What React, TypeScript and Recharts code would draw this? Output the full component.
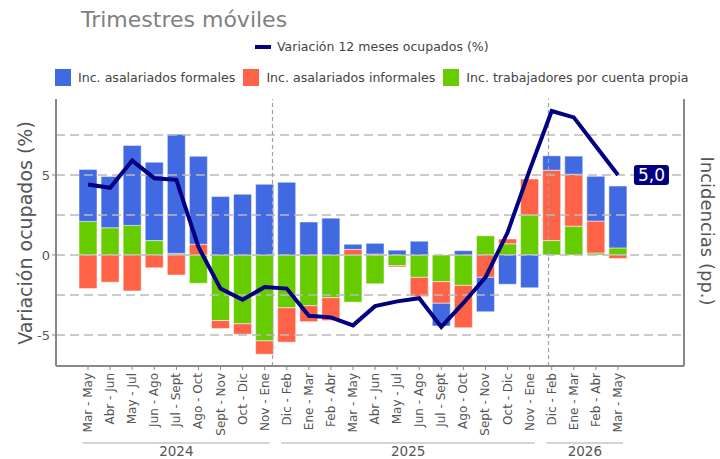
import {
  Bar,
  ComposedChart,
  LabelList,
  Line,
  ReferenceLine,
  XAxis,
  YAxis,
} from "recharts";

const periods = [
  "Mar - May", "Abr - Jun", "May - Jul", "Jun - Ago", "Jul - Sept", "Ago - Oct",
  "Sept - Nov", "Oct - Dic", "Nov - Ene",
  "Dic - Feb", "Ene - Mar", "Feb - Abr", "Mar - May", "Abr - Jun", "May - Jul",
  "Jun - Ago", "Jul - Sept", "Ago - Oct", "Sept - Nov", "Oct - Dic", "Nov - Ene",
  "Dic - Feb", "Ene - Mar", "Feb - Abr", "Mar - May",
];
const years = ["2024", "2025", "2026"];
const yearCounts = [9, 12, 4];

const formales = [
  3.25, 3.2, 5.0, 4.9, 7.45, 5.5, 3.65, 3.8, 4.42, 4.55, 2.06, 2.3, 0.32, 0.67,
  0.3, 0.86, -1.42, 0.27, -2.15, -1.83, -2.05, 0.9, 1.13, 2.8, 3.87,
];
const informales = [
  -2.1, -1.7, -2.25, -0.8, -1.25, 0.67, -0.5, -0.65, -0.83, -2.15, -1.0, -1.43,
  0.35, 0.06, -0.08, -1.2, -1.35, -2.65, -1.4, 0.3, 2.25, 4.4, 3.25, 2.0, -0.22,
];
const cuentaPropia = [
  2.1, 1.7, 1.85, 0.9, 0.1, -1.77, -4.1, -4.3, -5.37, -3.3, -3.17, -2.67, -2.95,
  -1.8, -0.67, -1.4, -1.67, -1.9, 1.2, 0.7, 2.5, 0.9, 1.8, 0.12, 0.44,
];
const ocupados = [
  4.4, 4.2, 5.9, 4.8, 4.7, 0.5, -2.1, -2.8, -2.0, -2.1, -3.8, -3.9, -4.4, -3.2,
  -2.9, -2.7, -4.5, -3.0, -1.4, 1.4, 5.3, 9.0, 8.6, 6.8, 5.0,
];

const gridValues = [-5, -2.5, 0, 2.5, 5, 7.5];
const axisTicks = [-5, 0, 5];

const data = periods.map((p, i) => ({
  id: `p${i}`,
  period: p,
  formales: formales[i],
  informales: informales[i],
  propia: cuentaPropia[i],
  ocupados: ocupados[i],
}));

// layout
const W = 720;
const H = 459;
const PLOT_L = 56;
const PLOT_R = 684;
const PLOT_T = 99;
const PLOT_B = 366;
const PAD = { left: 21, right: 55 };
const STEP = (PLOT_R - PLOT_L - PAD.left - PAD.right) / periods.length;

const BLUE = "#4169E1";
const RED = "#FF6347";
const GREEN = "#66CC00";
const NAVY = "#000080";
const AXIS = "#888888";
const TEXT = "#555555";
const FONT = "DejaVu Sans, sans-serif";

// boundaries between year groups, in category index units
const groupStarts = yearCounts.map((_, g) =>
  yearCounts.slice(0, g).reduce((a, b) => a + b, 0)
);
const yearBreaks = groupStarts.slice(1).map((s) => s - 0.5);

const PeriodTick = (props: any) => {
  const { x, payload } = props;
  const i = payload.index;
  const g = groupStarts.indexOf(i);
  const tx = x + 4;
  const ty = PLOT_B + 7;
  return (
    <g>
      <text
        x={tx}
        y={ty}
        transform={`rotate(-90, ${tx}, ${ty})`}
        textAnchor="end"
        fontSize={12}
        fill={TEXT}
        fontFamily={FONT}
      >
        {periods[i]}
      </text>
      {g >= 0 && (
        <g>
          <line
            x1={x - 5.5}
            x2={x + (yearCounts[g] - 1) * STEP + 5}
            y1={443}
            y2={443}
            stroke="#aaaaaa"
            strokeWidth={1.2}
          />
          <text
            x={x + ((yearCounts[g] - 1) / 2) * STEP}
            y={456}
            textAnchor="middle"
            fontSize={13.5}
            fill={TEXT}
            fontFamily={FONT}
          >
            {years[g]}
          </text>
        </g>
      )}
    </g>
  );
};

const EndLabel = (props: any) => {
  const { x, y, value, index } = props;
  if (index !== periods.length - 1) return null;
  const bx = x + 16;
  return (
    <g>
      <rect x={bx} y={y - 10} width={35} height={20} rx={3} fill={NAVY} />
      <text
        x={bx + 17.5}
        y={y + 6}
        textAnchor="middle"
        fontSize={17}
        fill="#ffffff"
        fontFamily={FONT}
      >
        {Number(value).toFixed(1).replace(".", ",")}
      </text>
    </g>
  );
};

const LegendSwatch = ({ color, label }: { color: string; label: string }) => (
  <div style={{ display: "flex", alignItems: "center", marginRight: 8 }}>
    <div style={{ width: 16, height: 17, background: color, marginRight: 7 }} />
    <span>{label}</span>
  </div>
);

const App = () => {
  const tickStyle = { fontSize: 13, fill: TEXT, fontFamily: FONT };
  return (
    <div
      style={{
        position: "absolute",
        left: 0,
        top: 0,
        width: W,
        height: H,
        overflow: "hidden",
        background: "#ffffff",
        fontFamily: FONT,
      }}
    >
      <div
        style={{
          position: "absolute",
          left: 81,
          top: 7,
          fontSize: 22,
          color: "#808080",
        }}
      >
        Trimestres móviles
      </div>
      <div
        style={{
          position: "absolute",
          left: 255,
          top: 39,
          display: "flex",
          alignItems: "center",
          fontSize: 12.5,
          color: "#444",
        }}
      >
        <div style={{ width: 16, height: 4, background: NAVY, marginRight: 6 }} />
        <span>Variación 12 meses ocupados (%)</span>
      </div>
      <div
        style={{
          position: "absolute",
          left: 55,
          top: 69,
          display: "flex",
          alignItems: "center",
          fontSize: 12.6,
          color: "#444",
        }}
      >
        <LegendSwatch color={BLUE} label="Inc. asalariados formales" />
        <LegendSwatch color={RED} label="Inc. asalariados informales" />
        <LegendSwatch color={GREEN} label="Inc. trabajadores por cuenta propia" />
      </div>
      <div
        style={{
          position: "absolute",
          left: 25,
          top: 233,
          transform: "translate(-50%, -50%) rotate(-90deg)",
          whiteSpace: "nowrap",
          fontSize: 19,
          color: TEXT,
        }}
      >
        Variación ocupados (%)
      </div>
      <div
        style={{
          position: "absolute",
          left: 707,
          top: 231,
          transform: "translate(-50%, -50%) rotate(90deg)",
          whiteSpace: "nowrap",
          fontSize: 18,
          lineHeight: "20px",
          color: TEXT,
        }}
      >
        Incidencias (pp.)
      </div>
      <div style={{ position: "absolute", left: 0, top: 0 }}>
        <ComposedChart
          width={W}
          height={H}
          data={data}
          stackOffset="sign"
          margin={{ top: PLOT_T, right: 0, bottom: 0, left: 0 }}
        >
          <XAxis
            dataKey="id"
            interval={0}
            height={H - PLOT_B}
            padding={PAD}
            axisLine={{ stroke: AXIS, strokeWidth: 2 }}
            tickLine={{ stroke: AXIS }}
            tickSize={4}
            tick={<PeriodTick />}
          />
          <XAxis
            xAxisId="n"
            type="number"
            domain={[-0.5, periods.length - 0.5]}
            padding={PAD}
            hide
          />
          <YAxis
            yAxisId="l"
            width={PLOT_L}
            domain={[-6.94, 9.75]}
            ticks={axisTicks}
            tick={tickStyle}
            axisLine={{ stroke: AXIS, strokeWidth: 2 }}
            tickLine={{ stroke: AXIS }}
            tickSize={4}
          />
          <YAxis
            yAxisId="r"
            orientation="right"
            width={W - PLOT_R}
            domain={[-6.94, 9.75]}
            ticks={axisTicks}
            tick={tickStyle}
            axisLine={{ stroke: AXIS, strokeWidth: 2 }}
            tickLine={{ stroke: AXIS }}
            tickSize={5}
          />
          {gridValues.map((v) => (
            <ReferenceLine
              key={v}
              yAxisId="l"
              y={v}
              stroke="#bbbbbb"
              strokeWidth={1.5}
              strokeDasharray="9 5"
            />
          ))}
          {yearBreaks.map((b) => (
            <ReferenceLine
              key={b}
              xAxisId="n"
              yAxisId="l"
              x={b}
              stroke="#a0a0a0"
              strokeWidth={1.2}
              strokeDasharray="4 3"
            />
          ))}
          <ReferenceLine
            xAxisId="n"
            yAxisId="l"
            segment={[
              { x: -0.5, y: 0 },
              { x: periods.length - 0.5, y: 0 },
            ]}
            stroke="#bbbbbb"
            strokeWidth={1.5}
          />
          <Bar
            yAxisId="l"
            dataKey="propia"
            stackId="inc"
            fill={GREEN}
            stroke="#ffffff"
            strokeOpacity={0.5}
            barSize={18}
            isAnimationActive={false}
          />
          <Bar
            yAxisId="l"
            dataKey="informales"
            stackId="inc"
            fill={RED}
            stroke="#ffffff"
            strokeOpacity={0.5}
            barSize={18}
            isAnimationActive={false}
          />
          <Bar
            yAxisId="l"
            dataKey="formales"
            stackId="inc"
            fill={BLUE}
            stroke="#ffffff"
            strokeOpacity={0.5}
            barSize={18}
            isAnimationActive={false}
          />
          <Line
            yAxisId="l"
            dataKey="ocupados"
            stroke={NAVY}
            strokeWidth={4}
            dot={false}
            activeDot={false}
            isAnimationActive={false}
          >
            <LabelList dataKey="ocupados" content={<EndLabel />} />
          </Line>
        </ComposedChart>
      </div>
    </div>
  );
};

export default App;
